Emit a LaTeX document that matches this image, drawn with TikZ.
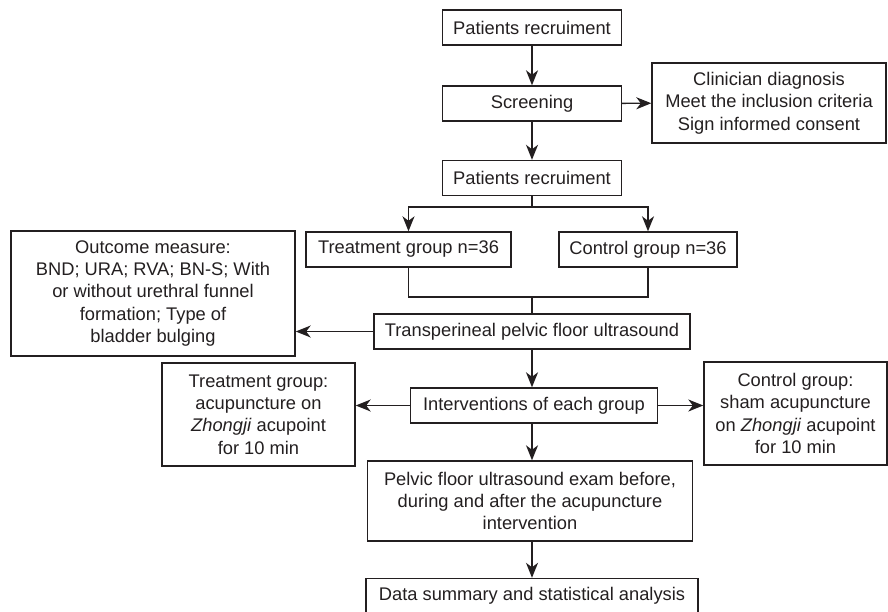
\documentclass[tikz,border=0pt]{standalone}
\usepackage{fontspec}
\setmainfont{Liberation Sans}
\usepackage{tikz}
\usetikzlibrary{arrows.meta}
\definecolor{ink}{HTML}{231F20}

\begin{document}
\begin{tikzpicture}[x=1pt, y=-1pt,
    box/.style={draw=ink, line width=1.4pt, text=ink, align=center, inner sep=2pt,
      font=\fontsize{18.3}{22.3}\selectfont},
    arr/.style={draw=ink, line width=1.4pt, -{Stealth[length=15pt, width=12pt, inset=4.5pt]}},
    link/.style={draw=ink, line width=1.4pt}]
    \useasboundingbox (0,0) rectangle (888,612);
    \node[box, minimum width=179pt, minimum height=35pt] (rec1) at (532,27.5) {Patients recruiment};
    \node[box, minimum width=179pt, minimum height=35pt] (screen) at (532,103.5) {Screening};
    \node[box, minimum width=234pt, minimum height=80pt] (crit) at (769,103) {Clinician diagnosis\\Meet the inclusion criteria\\Sign informed consent};
    \node[box, minimum width=179pt, minimum height=35pt] (rec2) at (532,178) {Patients recruiment};
    \node[box, minimum width=205pt, minimum height=35pt] (treat) at (408.5,249.5) {Treatment group n=36};
    \node[box, minimum width=178pt, minimum height=35pt] (ctrl) at (648,249.5) {Control group n=36};
    \node[box, minimum width=284pt, minimum height=125pt] (outcome) at (153,293.5) {Outcome measure:\\BND; URA; RVA; BN-S; With\\or without urethral funnel\\formation; Type of\\bladder bulging};
    \node[box, minimum width=316pt, minimum height=35pt] (trans) at (532,331.5) {Transperineal pelvic floor ultrasound};
    \node[box, minimum width=247pt, minimum height=35pt] (interv) at (534,405.5) {Interventions of each group};
    \node[box, minimum width=193pt, minimum height=103pt] (treatint) at (258.5,414.5) {Treatment group:\\acupuncture on\\\textit{Zhongji} acupoint\\for 10 min};
    \node[box, minimum width=183pt, minimum height=103pt] (ctrlint) at (795.5,413.5) {Control group:\\sham acupuncture\\on \textit{Zhongji} acupoint\\for 10 min};
    \node[box, minimum width=325pt, minimum height=80pt] (pelvic) at (530,501) {Pelvic floor ultrasound exam before,\\during and after the acupuncture\\intervention};
    \node[box, minimum width=332pt, minimum height=35pt] (data) at (532,596) {Data summary and statistical analysis};

    \draw[arr] (rec1) -- (screen);
    \draw[arr] (screen) -- (crit);
    \draw[arr] (screen) -- (rec2);
    \draw[arr] (rec2.south) -- ++(0,11) coordinate (split) -| (treat.north);
    \draw[arr] (split) -| (ctrl.north);
    \coordinate (join) at (532,297);
    \draw[link] (treat.south) |- (join) -| (ctrl.south);
    \draw[link] (join) -- (trans.north);
    \draw[arr] (trans.west) -- (trans.west -| outcome.east);
    \draw[arr] (trans.south) -- (trans.south |- interv.north);
    \draw[arr] (interv.west) -- (interv.west -| treatint.east);
    \draw[arr] (interv.east) -- (interv.east -| ctrlint.west);
    \draw[arr] (interv.south -| trans.south) -- (pelvic.north -| trans.south);
    \draw[arr] (pelvic.south -| trans.south) -- (data.north -| trans.south);
\end{tikzpicture}
\end{document}
